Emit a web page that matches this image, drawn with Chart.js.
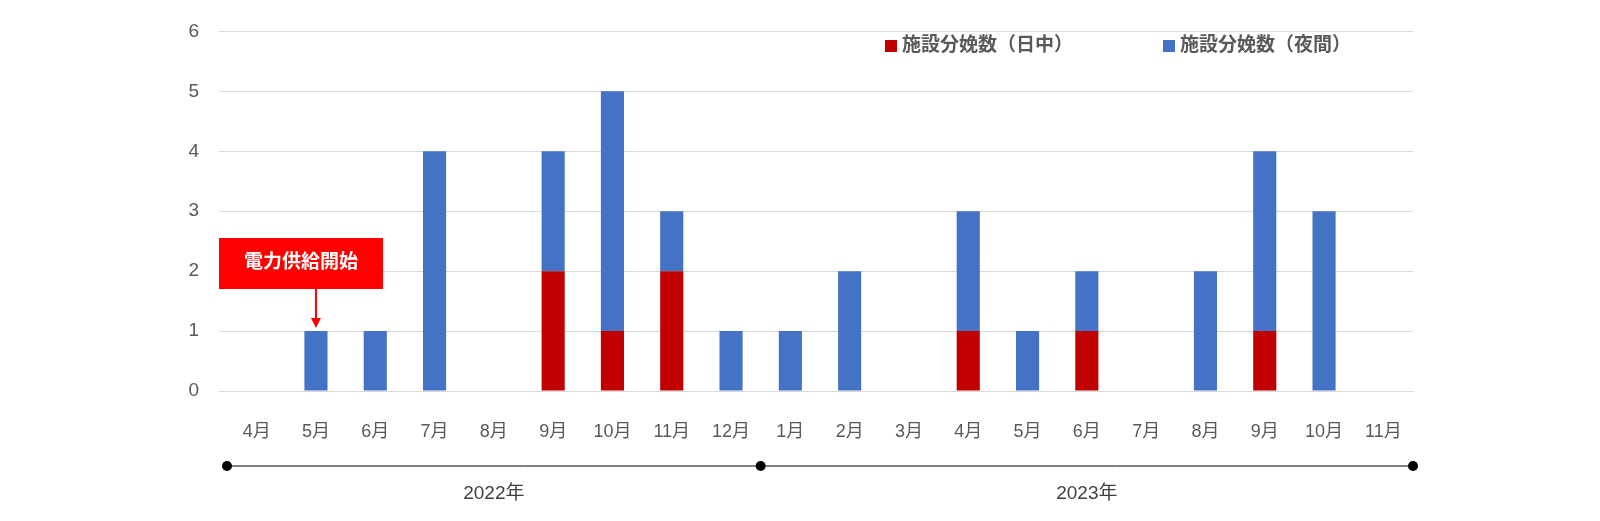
<!DOCTYPE html>
<html>
<head>
<meta charset="utf-8">
<script src="https://cdn.jsdelivr.net/npm/chart.js@4"></script>
<style>
  body { margin: 0; background: #fff; }
  #wrap { width: 1600px; height: 521px; }
</style>
</head>
<body>
<div id="wrap"><canvas id="myChart" width="1600" height="521"></canvas></div>
<script>
'use strict';

let months = ['4月', '5月', '6月', '7月', '8月', '9月', '10月', '11月', '12月', '1月',
    '2月', '3月', '4月', '5月', '6月', '7月', '8月', '9月', '10月', '11月'];
let dayBirths = [0, 0, 0, 0, 0, 2, 1, 2, 0, 0, 0, 0, 1, 0, 1, 0, 0, 1, 0, 0];
let nightBirths = [0, 1, 1, 4, 0, 2, 4, 1, 1, 1, 2, 0, 2, 1, 1, 0, 2, 3, 3, 0];
let yTicks = [0, 1, 2, 3, 4, 5, 6];
let years = ['2022年', '2023年'];
let yearStart = [0, 9]; // index of first month in each year
let seriesNames = ['施設分娩数（日中）', '施設分娩数（夜間）'];
let note = '電力供給開始';
let noteIndex = 1;

const RED = '#C00000';
const BLUE = '#4472C4';
const FONT = '"Liberation Sans", "Noto Sans CJK JP", sans-serif';

// extra drawing: legend, callout, year timeline
let extras = {
    id: 'extras',
    afterDraw(chart) {
        let ctx = chart.ctx;
        let x = chart.scales.x;
        let y = chart.scales.y;
        let area = chart.chartArea;
        let step = x.getPixelForValue(1) - x.getPixelForValue(0);

        // legend
        ctx.save();
        ctx.font = 'bold 19px ' + FONT;
        ctx.textBaseline = 'middle';
        let lx = [885, 1163];
        [RED, BLUE].forEach((c, i) => {
            ctx.fillStyle = c;
            ctx.fillRect(lx[i], 40, 12, 12);
            ctx.fillStyle = '#595959';
            ctx.textAlign = 'left';
            ctx.fillText(seriesNames[i], lx[i] + 17, 46);
        });

        // callout
        let cx = x.getPixelForValue(noteIndex);
        ctx.fillStyle = '#FF0000';
        ctx.fillRect(219, 238, 164, 51);
        ctx.fillStyle = '#fff';
        ctx.textAlign = 'center';
        ctx.fillText(note, 301, 263);
        let tip = y.getPixelForValue(nightBirths[noteIndex] + dayBirths[noteIndex]) - 3;
        ctx.strokeStyle = '#FF0000';
        ctx.lineWidth = 2;
        ctx.beginPath();
        ctx.moveTo(cx, 289);
        ctx.lineTo(cx, tip - 8);
        ctx.stroke();
        ctx.fillStyle = '#FF0000';
        ctx.beginPath();
        ctx.moveTo(cx - 5, tip - 10);
        ctx.lineTo(cx + 5, tip - 10);
        ctx.lineTo(cx, tip);
        ctx.closePath();
        ctx.fill();

        // timeline
        let ly = 466;
        let pts = [area.left, x.getPixelForValue(yearStart[1]) - step / 2, area.right];
        ctx.strokeStyle = '#000';
        ctx.lineWidth = 1;
        ctx.beginPath();
        ctx.moveTo(pts[0], ly);
        ctx.lineTo(pts[2], ly);
        ctx.stroke();
        ctx.fillStyle = '#000';
        pts.forEach(p => {
            ctx.beginPath();
            ctx.arc(p, ly, 5, 0, Math.PI * 2);
            ctx.fill();
        });
        ctx.font = '19px ' + FONT;
        ctx.fillStyle = '#404040';
        ctx.fillText(years[0], (pts[0] + pts[1]) / 2, 494);
        ctx.fillText(years[1], (pts[1] + pts[2]) / 2, 494);
        ctx.restore();
    }
};

let ctx = document.getElementById('myChart').getContext('2d');
let myChart = new Chart(ctx, {
    type: 'bar',
    data: {
        labels: months,
        datasets: [{
            label: seriesNames[0],
            data: dayBirths,
            backgroundColor: RED,
            barPercentage: 0.39,
            categoryPercentage: 1
        }, {
            label: seriesNames[1],
            data: nightBirths,
            backgroundColor: BLUE,
            barPercentage: 0.39,
            categoryPercentage: 1
        }]
    },
    options: {
        responsive: false,
        animation: false,
        layout: { padding: { left: 162, right: 187, top: 0, bottom: 0 } },
        plugins: { legend: { display: false }, tooltip: { enabled: false } },
        scales: {
            x: {
                stacked: true,
                grid: { display: false },
                border: { color: '#d9d9d9' },
                ticks: { color: '#595959', font: { size: 18, family: FONT }, padding: 22 },
                afterFit: s => { s.height = 130; }
            },
            y: {
                stacked: true,
                min: 0,
                max: 6,
                afterBuildTicks: s => { s.ticks = yTicks.map(v => ({ value: v })); },
                grid: { color: '#d9d9d9' },
                border: { display: false },
                ticks: { color: '#595959', font: { size: 19, family: FONT }, padding: 20 },
                afterFit: s => { s.width = 65; }
            }
        }
    },
    plugins: [extras]
});
</script>
</body>
</html>
